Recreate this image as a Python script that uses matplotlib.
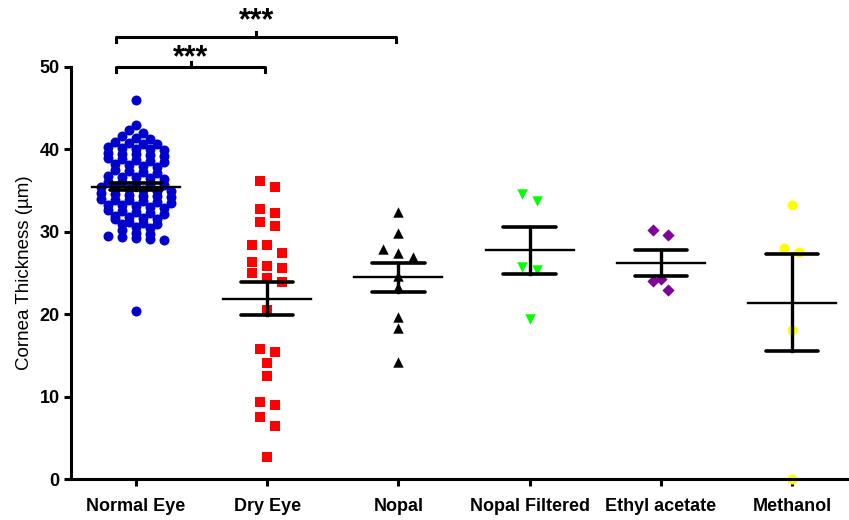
import numpy as np
import matplotlib
matplotlib.use('Agg')
import matplotlib.pyplot as plt

plt.rcParams['font.family'] = ['Liberation Sans', 'DejaVu Sans']

groups = ['Normal Eye', 'Dry Eye', 'Nopal', 'Nopal Filtered', 'Ethyl acetate', 'Methanol']

normal_eye = [46.0, 43.0, 42.3, 42.0, 41.6, 41.4, 41.3, 40.9, 40.8, 40.7, 40.6,
              40.3, 40.2, 40.1, 40.0, 39.9, 39.6, 39.5, 39.4, 39.3, 39.2,
              38.9, 38.8, 38.7, 38.6, 38.5, 38.2, 38.1, 38.0, 37.9,
              37.5, 37.4, 37.2, 37.1, 36.8, 36.7, 36.6, 36.5, 36.4,
              36.1, 36.0, 35.9, 35.8, 35.7, 35.4, 35.3, 35.2, 35.1, 35.0, 34.9,
              34.7, 34.6, 34.5, 34.4, 34.3, 34.2, 34.0, 33.9, 33.8, 33.7, 33.6, 33.5,
              33.3, 33.2, 33.1, 33.0, 32.9, 32.6, 32.5, 32.4, 32.3, 32.2,
              31.9, 31.8, 31.7, 31.6, 31.5, 31.2, 31.1, 31.0, 30.9,
              30.6, 30.4, 30.2, 29.9, 29.7, 29.5, 29.4, 29.2, 29.1, 29.0, 20.4]
dry_eye = [36.2, 35.4, 32.8, 32.3, 31.2, 30.7, 28.4, 28.4, 27.4, 26.3, 25.9, 25.6,
           25.0, 23.9, 24.4, 20.5, 15.8, 15.4, 14.1, 12.5, 9.3, 9.0, 7.5, 6.4, 2.7]
nopal = [32.4, 29.9, 27.4, 27.9, 26.9, 24.6, 23.3, 19.7, 18.3, 14.2]
nopal_filtered = [33.7, 34.6, 25.7, 25.4, 19.4]
ethyl_acetate = [30.2, 29.6, 24.3, 24.0, 22.9]
methanol = [33.2, 27.6, 28.0, 18.1, 0.0]

data = [normal_eye, dry_eye, nopal, nopal_filtered, ethyl_acetate, methanol]
colors = ['#0000CC', '#FF0000', '#000000', '#00FF00', '#800099', '#FFFF00']
markers = ['o', 's', '^', 'v', 'D', 'o']
msizes = [7.2, 7.8, 7.5, 7.5, 6.2, 7.2]   # points
row_h = [0.6, 1.2, 1.2, 1.2, 1.2, 1.2]
col_w = [0.106, 0.114, 0.114, 0.114, 0.114, 0.114]

fig = plt.figure(figsize=(8.49, 5.2), dpi=100)
ax = fig.add_axes([0.0836, 0.0788, 0.9164, 0.7924])
ax.set_xlim(-0.496, 5.435)
ax.set_ylim(0, 50)


def scatter_offsets(vals, h, w):
    # group close values into rows and centre each row (column scatter)
    vals = np.asarray(vals, float)
    order = np.argsort(vals)
    offs = np.zeros(len(vals))
    rows, cur = [], [order[0]]
    for j in order[1:]:
        if vals[j] - vals[cur[0]] < h:
            cur.append(j)
        else:
            rows.append(cur)
            cur = [j]
    rows.append(cur)
    for r in rows:
        r = sorted(r, key=lambda k: -vals[k])
        n = len(r)
        for k, idx in enumerate(r):
            offs[idx] = (k - (n - 1) / 2) * w
    return offs


for i, vals in enumerate(data):
    off = scatter_offsets(vals, row_h[i], col_w[i])
    ax.scatter(i + off, vals, s=msizes[i] ** 2, marker=markers[i], color=colors[i],
               linewidths=0, zorder=2, clip_on=False)
    v = np.array(vals)
    m = v.mean()
    sem = v.std(ddof=1) / np.sqrt(len(v))
    ax.plot([i - 0.335, i + 0.335], [m, m], color='black', lw=1.7, zorder=3)
    ax.plot([i, i], [m - sem, m + sem], color='black', lw=2.4, zorder=3)
    ax.plot([i - 0.2, i + 0.2], [m + sem, m + sem], color='black', lw=2.6, zorder=3,
            solid_capstyle='round')
    ax.plot([i - 0.2, i + 0.2], [m - sem, m - sem], color='black', lw=2.6, zorder=3,
            solid_capstyle='round')

# significance brackets
for x1, x2, y, ys in [(-0.15, 0.985, 50.0, 51.0), (-0.15, 1.98, 53.6, 55.6)]:
    xc = (x1 + x2) / 2
    ax.plot([x1, x1, x2, x2], [y - 0.6, y, y, y - 0.6], color='black', lw=2.2,
            clip_on=False, solid_joinstyle='round')
    ax.plot([xc, xc], [y, y + 0.6], color='black', lw=2.2, clip_on=False)
    ax.text(xc, ys, '***', ha='center', va='center', fontsize=22, fontweight='bold')

ax.spines['top'].set_visible(False)
ax.spines['right'].set_visible(False)
ax.spines['left'].set_linewidth(2.2)
ax.spines['bottom'].set_linewidth(2.2)
ax.set_xticks(range(len(groups)))
ax.set_xticklabels(groups, fontsize=13, fontweight='bold')
ax.set_yticks(np.arange(0, 51, 10))
ax.set_yticklabels([str(t) for t in range(0, 51, 10)], fontsize=13, fontweight='bold')
ax.tick_params(axis='x', length=5, width=2.2, pad=9)
ax.tick_params(axis='y', length=5, width=2.2, pad=3)
ax.set_ylabel('Cornea Thickness (µm)', fontsize=13.5, labelpad=5)

fig.savefig('out.png', dpi=100)
